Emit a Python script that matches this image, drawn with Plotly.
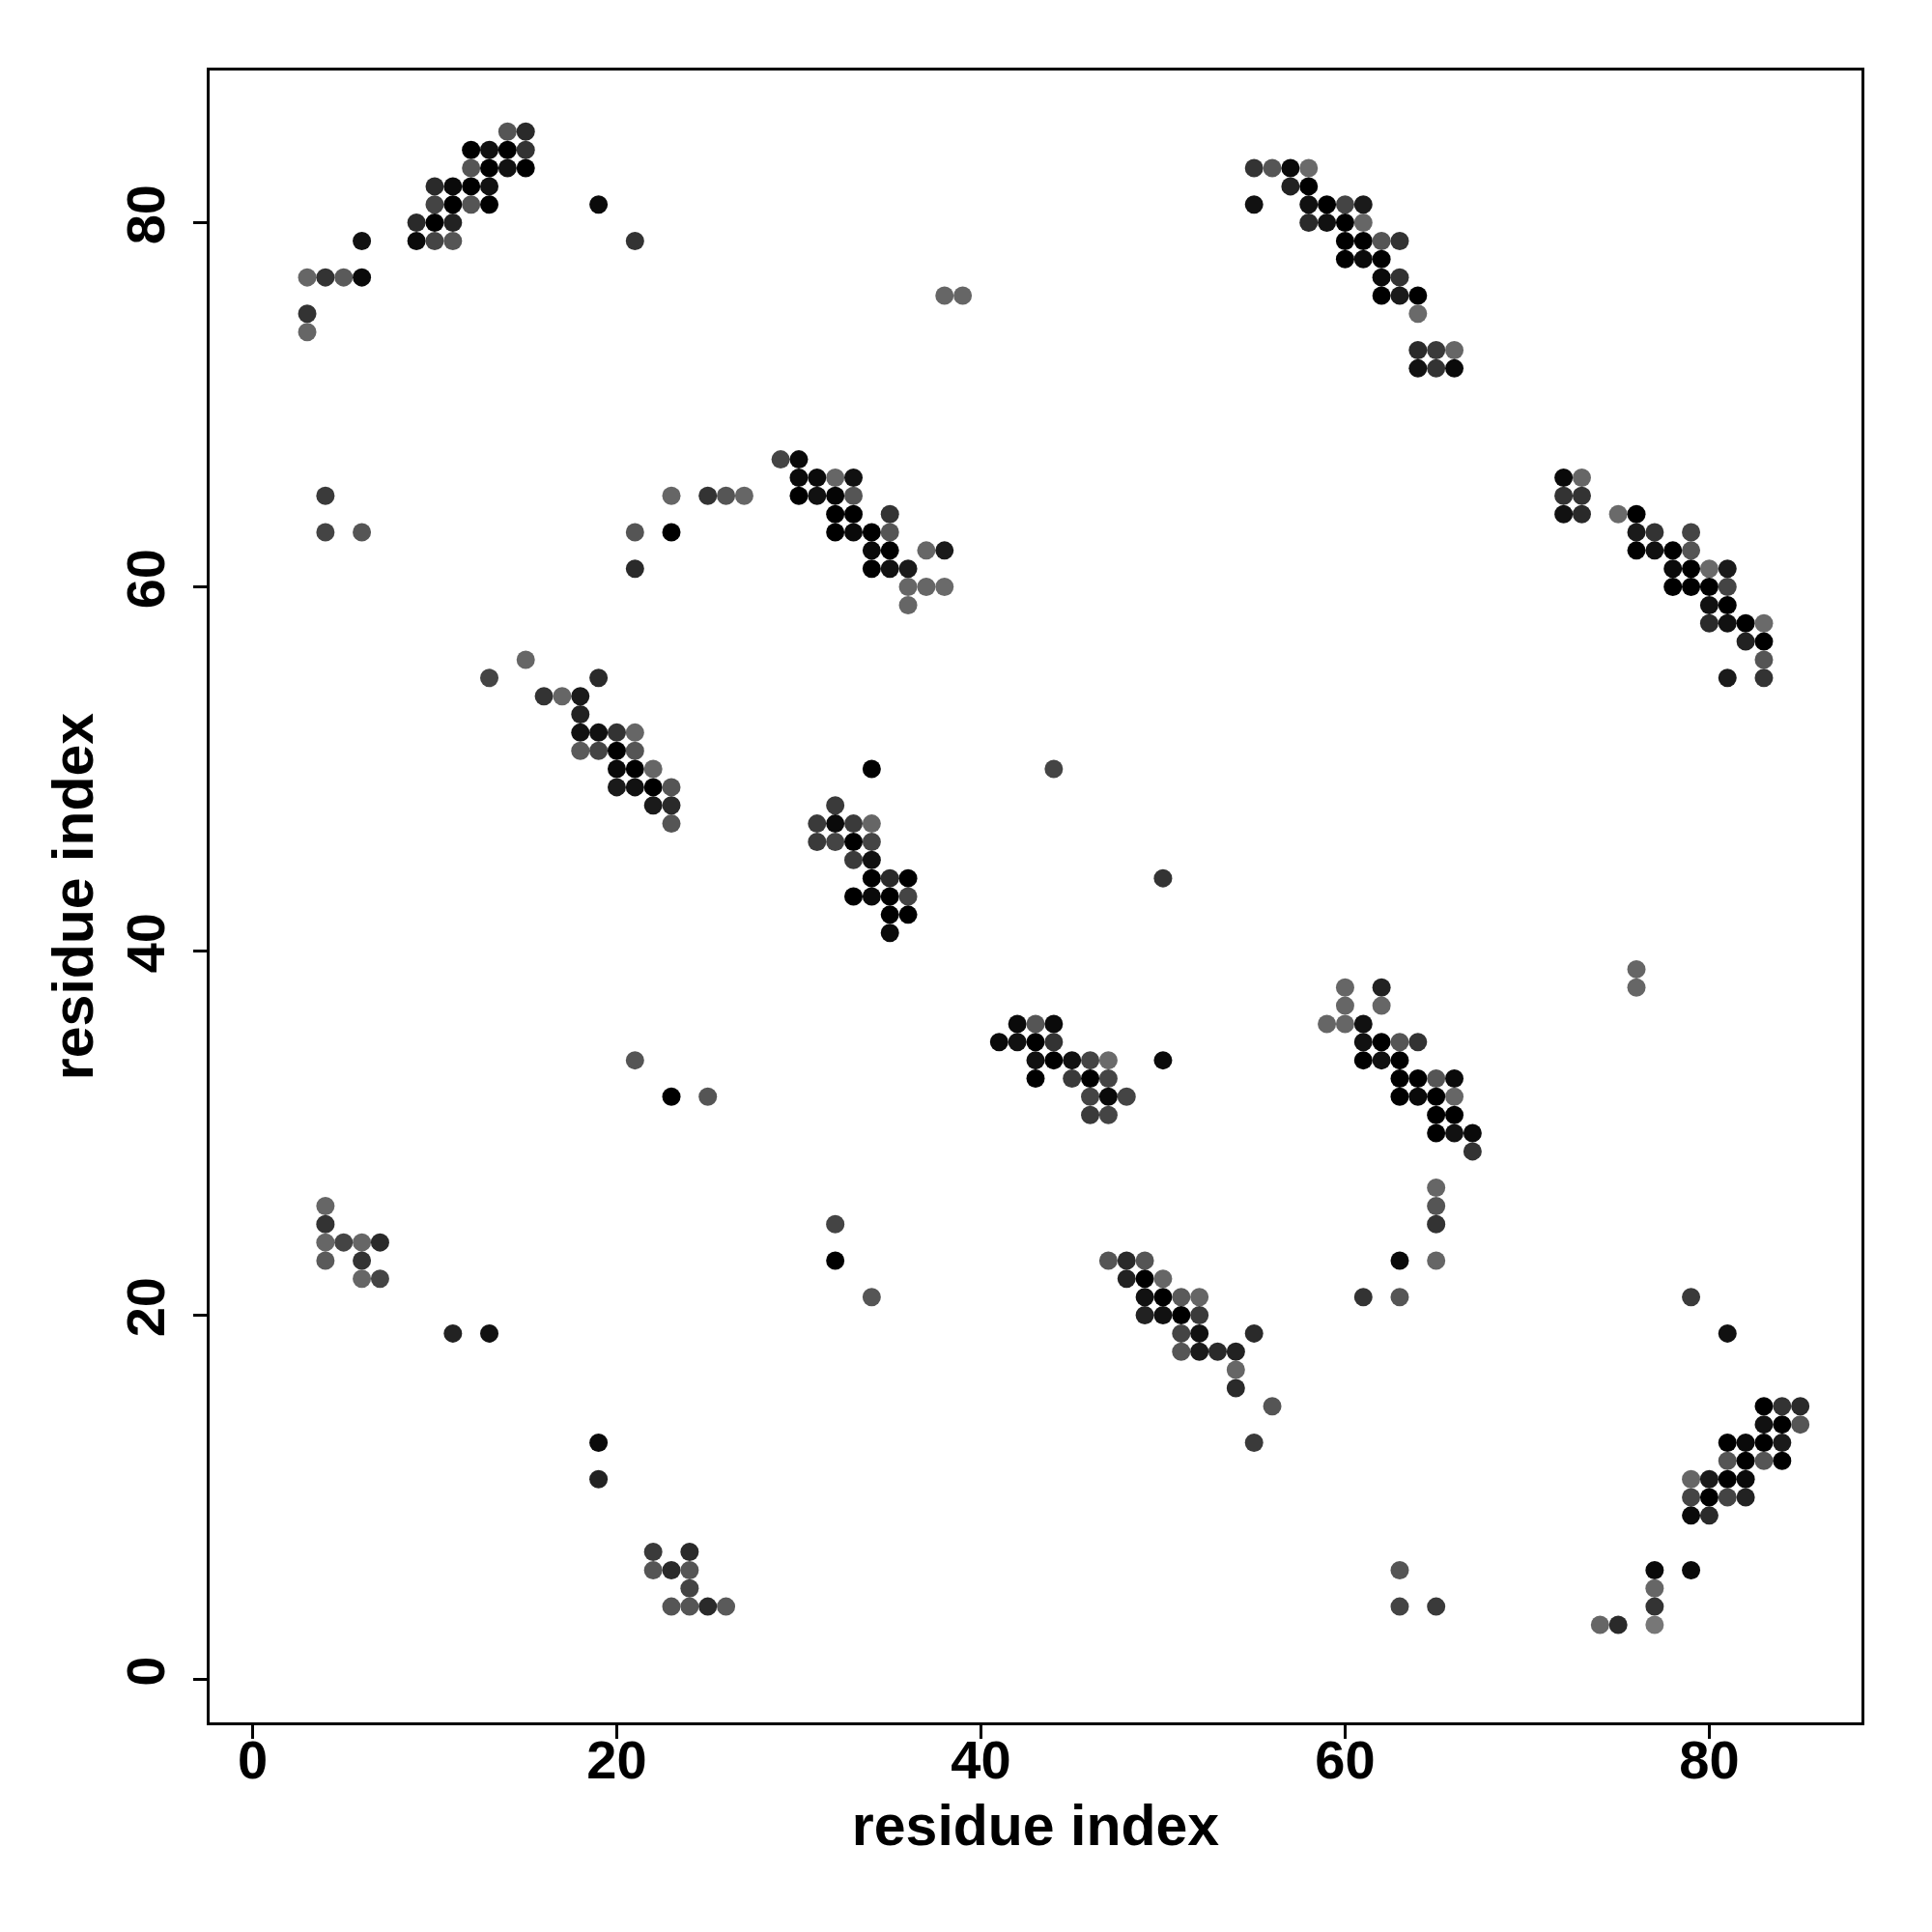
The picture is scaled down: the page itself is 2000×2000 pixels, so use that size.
import plotly.graph_objects as go

# Contact map data: residue i (x), residue j (y), gray level of the point (0 = black)
res_x = [
    # top-left cluster
    14, 15, 12, 13, 14, 15, 12, 13, 14, 15, 10, 11, 12, 13, 10, 11, 12, 13,
    9, 10, 11, 6, 9, 10, 11, 3, 4, 5, 6, 3, 3,
    19, 21, 38, 39,
    # top-right cluster
    55, 56, 57, 58, 57, 58, 55, 58, 59, 60, 61, 58, 59, 60, 61, 60, 61, 62, 63,
    60, 61, 62, 62, 63, 62, 63, 64, 64, 64, 65, 66, 64, 65, 66,
    # right cluster
    72, 73, 72, 73, 72, 73, 75, 76, 76, 77, 79, 76, 77, 78, 79, 78, 79, 80, 81,
    78, 79, 80, 81, 80, 81, 80, 81, 82, 83, 82, 83, 83, 81, 83,
    # middle-upper cluster
    29, 30, 30, 31, 32, 33, 30, 31, 32, 33, 32, 33, 35, 32, 33, 34, 35,
    34, 35, 37, 38, 34, 35, 36, 36, 37, 38, 36,
    # left-middle
    4, 23, 25, 26, 27, 4, 6, 21, 23, 21, 15, 13, 19, 16, 17, 18, 18,
    18, 19, 20, 21, 18, 19, 20, 21, 20, 21, 22, 20, 21, 22, 23, 22, 23, 23,
    # center cluster
    34, 32, 31, 32, 33, 34, 31, 32, 33, 34, 33, 34, 34, 35, 36, 33, 34, 35, 36,
    35, 36, 35,
    44, 50,
    # cluster around (45, 34)
    42, 43, 44, 41, 42, 43, 44, 43, 44, 45, 46, 47, 50, 43, 45, 46, 47,
    46, 47, 48, 46, 47,
    # cluster around (63, 33)
    60, 62, 60, 62, 59, 60, 61, 61, 62, 63, 64, 61, 62, 63, 63, 64, 65, 66,
    63, 64, 65, 66, 65, 66, 65, 66, 67, 67, 65, 65, 65, 63, 65,
    # isolated points
    76, 76, 21, 23, 25, 32, 32, 34, 61, 63, 11, 13, 19, 19, 63, 63, 65,
    # cluster around (51, 20)
    47, 48, 49, 48, 49, 50, 49, 50, 51, 52, 49, 50, 51, 52, 51, 52, 55,
    51, 52, 53, 54, 54, 54, 56, 55,
    # bottom-right cluster
    79, 81, 83, 84, 85, 83, 84, 85, 81, 82, 83, 84, 81, 82, 83, 84,
    79, 80, 81, 82, 79, 80, 81, 82, 79, 80, 77, 79, 77, 77, 74, 75, 77,
    # bottom-left
    4, 4, 4, 5, 6, 7, 4, 6, 6, 7,
    22, 24, 22, 23, 24, 24, 23, 24, 25, 26,
]

res_y = [
    85, 85, 84, 84, 84, 84, 83, 83, 83, 83, 82, 82, 82, 82, 81, 81, 81, 81,
    80, 80, 80, 79, 79, 79, 79, 77, 77, 77, 77, 75, 74,
    81, 79, 76, 76,
    83, 83, 83, 83, 82, 82, 81, 81, 81, 81, 81, 80, 80, 80, 80, 79, 79, 79, 79,
    78, 78, 78, 77, 77, 76, 76, 76, 75, 73, 73, 73, 72, 72, 72,
    66, 66, 65, 65, 64, 64, 64, 64, 63, 63, 63, 62, 62, 62, 62, 61, 61, 61, 61,
    60, 60, 60, 60, 59, 59, 58, 58, 58, 58, 57, 57, 56, 55, 55,
    67, 67, 66, 66, 66, 66, 65, 65, 65, 65, 64, 64, 64, 63, 63, 63, 63,
    62, 62, 62, 62, 61, 61, 61, 60, 60, 60, 59,
    65, 65, 65, 65, 65, 63, 63, 63, 63, 61, 56, 55, 55, 54, 54, 54, 53,
    52, 52, 52, 52, 51, 51, 51, 51, 50, 50, 50, 49, 49, 49, 49, 48, 48, 47,
    50, 48, 47, 47, 47, 47, 46, 46, 46, 46, 45, 45, 44, 44, 44, 43, 43, 43, 43,
    42, 42, 41,
    50, 44,
    36, 36, 36, 35, 35, 35, 35, 34, 34, 34, 34, 34, 34, 33, 33, 33, 33,
    32, 32, 32, 31, 31,
    38, 38, 37, 37, 36, 36, 36, 35, 35, 35, 35, 34, 34, 34, 33, 33, 33, 33,
    32, 32, 32, 32, 31, 31, 30, 30, 30, 29, 27, 26, 25, 23, 23,
    39, 38, 34, 32, 32, 25, 23, 21, 21, 21, 19, 19, 13, 11, 6, 4, 4,
    23, 23, 23, 22, 22, 22, 21, 21, 21, 21, 20, 20, 20, 20, 19, 19, 19,
    18, 18, 18, 18, 17, 16, 15, 13,
    21, 19, 15, 15, 15, 14, 14, 14, 13, 13, 13, 13, 12, 12, 12, 12,
    11, 11, 11, 11, 10, 10, 10, 10, 9, 9, 6, 6, 5, 4, 3, 3, 3,
    26, 25, 24, 24, 24, 24, 23, 23, 22, 22,
    7, 7, 6, 6, 6, 5, 4, 4, 4, 4,
]

gray_level = [
    85, 42, 0, 17, 0, 51, 85, 0, 17, 0, 42, 10, 0, 17, 68, 0, 85, 0,
    42, 0, 34, 17, 10, 68, 85, 102, 51, 90, 10, 51, 102,
    10, 51, 102, 102,
    51, 85, 10, 106, 34, 0, 17, 17, 0, 68, 26, 42, 17, 0, 102, 0, 0, 85, 51,
    0, 10, 0, 10, 51, 0, 26, 0, 106, 42, 58, 102, 17, 51, 10,
    10, 102, 51, 51, 17, 42, 106, 0, 26, 51, 68, 0, 17, 0, 85, 10, 0, 106, 26,
    0, 0, 0, 68, 17, 0, 42, 17, 0, 106, 34, 0, 85, 26, 51,
    68, 10, 10, 10, 102, 17, 0, 17, 5, 85, 0, 0, 51, 0, 10, 0, 85,
    10, 0, 102, 26, 0, 17, 26, 102, 102, 106, 102,
    58, 102, 51, 85, 102, 68, 85, 85, 0, 42, 102, 68, 42, 51, 102, 26, 34,
    17, 17, 51, 102, 90, 68, 0, 85, 10, 0, 102, 26, 17, 0, 85, 26, 42, 85,
    0, 58, 58, 10, 58, 102, 58, 68, 0, 68, 58, 17, 0, 42, 0, 0, 10, 0, 68,
    0, 0, 10,
    68, 51,
    10, 85, 10, 10, 17, 0, 51, 17, 0, 17, 68, 106, 10, 0, 58, 0, 68,
    68, 10, 68, 58, 68,
    102, 34, 102, 102, 102, 102, 17, 17, 0, 85, 51, 0, 17, 0, 0, 0, 85, 10,
    0, 10, 0, 102, 0, 0, 0, 17, 10, 51, 102, 85, 51, 10, 102,
    102, 102, 85, 0, 85, 68, 0, 85, 51, 85, 34, 17, 10, 34, 85, 68, 58,
    85, 42, 85, 34, 0, 102, 17, 0, 90, 102, 34, 17, 0, 58, 68, 17, 42,
    85, 26, 42, 34, 102, 42, 85, 58,
    58, 17, 0, 51, 42, 17, 0, 85, 0, 10, 0, 26, 85, 0, 85, 0,
    102, 26, 0, 10, 68, 0, 68, 34, 10, 42, 10, 10, 102, 51, 102, 42, 119,
    102, 51, 102, 68, 102, 42, 90, 51, 102, 68,
    58, 42, 85, 42, 85, 68, 85, 85, 42, 90,
]

tick_vals = [0, 20, 40, 60, 80]
axis_title = "residue index"

colors = [f"rgb({g},{g},{g})" for g in gray_level]

fig = go.Figure(
    go.Scatter(
        x=res_x,
        y=res_y,
        mode="markers",
        marker=dict(size=19, color=colors, line=dict(width=0)),
        hoverinfo="skip",
    )
)

axis_common = dict(
    range=[-2.36, 88.36],
    tickvals=tick_vals,
    ticks="outside",
    ticklen=14,
    tickwidth=2.5,
    tickcolor="black",
    showline=True,
    mirror=True,
    linecolor="black",
    linewidth=2.5,
    showgrid=False,
    zeroline=False,
    tickfont=dict(family="Liberation Sans", size=56, color="black", weight="bold"),
    title=dict(
        text=axis_title,
        font=dict(family="Liberation Sans", size=59, color="black", weight="bold"),
    ),
)

fig.update_layout(
    width=2000,
    height=2000,
    margin=dict(l=209, r=81, t=65, b=225),
    paper_bgcolor="white",
    plot_bgcolor="white",
    showlegend=False,
    xaxis=dict(axis_common, ticklabelstandoff=-26,
               title=dict(axis_common["title"], standoff=17)),
    yaxis=dict(axis_common, tickangle=-90, ticklabelstandoff=8,
               title=dict(axis_common["title"], standoff=4)),
)

fig.write_html("out.html")
